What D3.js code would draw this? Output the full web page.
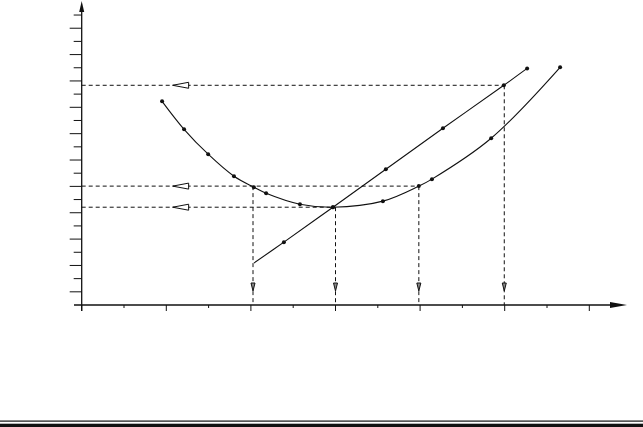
<!DOCTYPE html>
<html><head><meta charset="utf-8">
<script src="https://cdn.jsdelivr.net/npm/d3@7"></script>
<style>html,body{margin:0;padding:0;background:#fff;}svg{display:block;}</style>
</head><body>
<svg id="c" width="643" height="427"></svg>
<script>
// Data (x in axis tick units, y in axis tick units)
const curveX = [1.90, 2.42, 2.99, 3.60, 4.07, 4.36, 5.16, 5.94, 7.12, 7.97, 8.28, 9.68, 11.31];
const curveY = [15.45, 13.33, 11.44, 9.77, 8.94, 8.48, 7.65, 7.42, 7.88, 9.02, 9.55, 12.65, 18.03];
const lineX = [4.07, 4.78, 5.94, 7.19, 8.54, 9.98, 10.53];
const lineY = [3.18, 4.77, 7.42, 10.30, 13.41, 16.67, 17.95];
const lineMarked = [false, true, true, true, true, true, true];
const guideY = [16.67, 9.02, 7.42];        // horizontal guides
const guideYEnd = [9.99, 7.97, 6.0];        // x where horizontal guide ends
const guideX = [4.05, 6.0, 7.97, 9.99];     // vertical guides
const guideXTop = [9.02, 7.42, 9.02, 16.67];// y where vertical guide starts
const xTicks = d3.range(0, 13);
const yTicks = d3.range(0, 23);

const svg = d3.select("#c");
const x = d3.scaleLinear().domain([0, 12]).range([81.7, 81.7 + 12 * 42.3]);
const y = d3.scaleLinear().domain([0, 22]).range([305, 305 - 22 * 13.18]);
const ink = "#111";

// axes
svg.append("line").attr("x1", 74).attr("x2", 612).attr("y1", y(0)).attr("y2", y(0)).attr("stroke", ink).attr("stroke-width", 1.3);
svg.append("line").attr("x1", x(0)).attr("x2", x(0)).attr("y1", 311).attr("y2", 8).attr("stroke", ink).attr("stroke-width", 1.3);
svg.append("path").attr("d", `M610,302 L627,305 L610,308 Z`).attr("fill", ink);
svg.append("path").attr("d", `M${x(0)-2.5},12 L${x(0)},1 L${x(0)+2.5},12 Z`).attr("fill", ink);

// x ticks
svg.append("g").selectAll("line").data(xTicks).join("line")
  .attr("x1", d => x(d)).attr("x2", d => x(d))
  .attr("y1", y(0)).attr("y2", d => y(0) + (d % 2 === 0 ? 6 : 3))
  .attr("stroke", ink).attr("stroke-width", 1);
// y ticks
svg.append("g").selectAll("line").data(yTicks.filter(d => d > 0)).join("line")
  .attr("x1", d => x(0) - (d % 2 === 1 ? 12 : 8)).attr("x2", x(0))
  .attr("y1", d => y(d)).attr("y2", d => y(d))
  .attr("stroke", ink).attr("stroke-width", 1);

// guides
const g = svg.append("g").attr("stroke", ink).attr("stroke-width", 1).attr("stroke-dasharray", "4,3").attr("fill", "none");
guideY.forEach((v, i) => {
  g.append("line").attr("x1", x(0)).attr("x2", x(guideYEnd[i])).attr("y1", y(v)).attr("y2", y(v));
});
guideX.forEach((v, i) => {
  g.append("line").attr("x1", x(v)).attr("x2", x(v)).attr("y1", y(guideXTop[i])).attr("y2", y(0));
});
// arrows on guides
const ah = svg.append("g").attr("stroke", ink).attr("stroke-width", 1).attr("fill", "#fff");
guideY.forEach(v => {
  const yy = y(v), x0 = x(2.15);
  ah.append("path").attr("d", `M${x0},${yy} L${x0 + 16},${yy - 3} L${x0 + 16},${yy + 3} Z`);
});
guideX.forEach(v => {
  const xx = x(v);
  ah.append("path").attr("d", `M${xx - 2},283 L${xx + 2},283 L${xx},291 Z`).attr("fill", "#888");
});

// curves
const pc = curveX.map((d, i) => [d, curveY[i]]);
const pl = lineX.map((d, i) => [d, lineY[i]]);
svg.append("path").datum(pc)
  .attr("d", d3.line().x(d => x(d[0])).y(d => y(d[1])).curve(d3.curveCatmullRom.alpha(0.5)))
  .attr("fill", "none").attr("stroke", ink).attr("stroke-width", 1.1);
svg.append("path").datum(pl)
  .attr("d", d3.line().x(d => x(d[0])).y(d => y(d[1])).curve(d3.curveCatmullRom.alpha(0.5)))
  .attr("fill", "none").attr("stroke", ink).attr("stroke-width", 1.1);

svg.append("g").selectAll("circle").data(pc).join("circle")
  .attr("cx", d => x(d[0])).attr("cy", d => y(d[1])).attr("r", 2).attr("fill", ink);
svg.append("g").selectAll("circle").data(pl.filter((d, i) => lineMarked[i])).join("circle")
  .attr("cx", d => x(d[0])).attr("cy", d => y(d[1])).attr("r", 2).attr("fill", ink);

// bottom rules
svg.append("rect").attr("x", 0).attr("y", 420.5).attr("width", 643).attr("height", 1.2).attr("fill", ink);
svg.append("rect").attr("x", 0).attr("y", 423.7).attr("width", 643).attr("height", 3.3).attr("fill", ink);
</script>
</body></html>
